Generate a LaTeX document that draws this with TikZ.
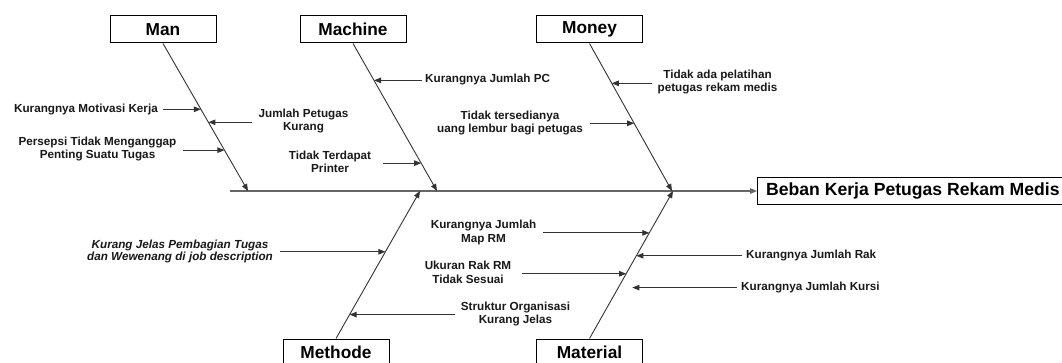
\documentclass[tikz,border=0pt]{standalone}
\usepackage{fontspec}
\setmainfont{Liberation Sans}
\usetikzlibrary{arrows.meta}
\begin{document}
\begin{tikzpicture}[x=1pt,y=-1pt,
  catbox/.style={draw=black, line width=1pt, minimum width=106pt, minimum height=27pt, inner sep=0pt, font=\fontsize{17.3}{20}\selectfont\bfseries},
  efftext/.style={minimum height=27pt, inner xsep=9pt, inner ysep=0pt, font=\fontsize{17.6}{20}\selectfont\bfseries},
  boxln/.style={draw=black, line width=1pt},
  lab/.style={inner sep=0pt, align=center, text=black!90, font=\fontsize{11.7}{13.6}\selectfont\bfseries},
  itlab/.style={lab, font=\fontsize{11.7}{11.5}\selectfont\bfseries\itshape},
  spine/.style={draw=black!80, line width=0.9pt, -{Triangle[length=7pt,width=5.5pt]}},
  arr/.style={draw=black!80, line width=0.9pt, -{Triangle[length=7pt,width=5.5pt]}},
  mainln/.style={draw=black!60, line width=1.4pt, -{Triangle[length=7pt,width=5.5pt]}},
]
\useasboundingbox (0,0) rectangle (1062,363);
\clip (0,0) rectangle (1062,363);
\fill[white] (0,0) rectangle (1062,363);

% category boxes
\node[catbox] (man) at (163,29.5) {Man};
\node[catbox] (machine) at (353,29.5) {Machine};
\node[catbox] (money) at (589.5,29.5) {Money};
\node[catbox] (methode) at (336,352.5) {Methode};
\node[catbox] (material) at (589.5,352.5) {Material};

% effect (box runs past the right edge)
\node[efftext, anchor=west] (effect) at (757,191) {Beban Kerja Petugas Rekam Medis};
\draw[boxln] ([xshift=30pt]effect.north east) -- (effect.north west) -- (effect.south west) -- ([xshift=30pt]effect.south east);
\coordinate (mainS) at (230,191);
\draw[mainln] (mainS) -- (effect.west);

% spine ends
\coordinate (manE) at (248,191);
\coordinate (macE) at (437,191);
\coordinate (monE) at (672,191);
\coordinate (metE) at (420,191);
\coordinate (matE) at (673,191);

\draw[spine] (man.south) -- (manE);
\draw[spine] (machine.south) -- (macE);
\draw[spine] (money.south) -- (monE);
\draw[spine] (methode.north) -- (metE);
\draw[spine] (material.north) -- (matE);

% points on spines
\path (man.south) -- (manE) coordinate[pos=0.446] (m1) coordinate[pos=0.534] (m2) coordinate[pos=0.723] (m3);
\path (machine.south) -- (macE) coordinate[pos=0.25] (c1) coordinate[pos=0.811] (c2);
\path (money.south) -- (monE) coordinate[pos=0.27] (o1) coordinate[pos=0.541] (o2);
\path (methode.north) -- (metE) coordinate[pos=0.588] (t1) coordinate[pos=0.162] (t2);
\path (material.north) -- (matE) coordinate[pos=0.716] (a1) coordinate[pos=0.561] (a2) coordinate[pos=0.439] (a3) coordinate[pos=0.345] (a4s);
\coordinate (a4) at ([xshift=14pt]a4s);

% tails
\coordinate (m1t) at (163,109);
\coordinate (m2t) at (252,122);
\coordinate (m3t) at (183,150);
\coordinate (c1t) at (422,80);
\coordinate (c2t) at (383,163);
\coordinate (o1t) at (652,83);
\coordinate (o2t) at (590,123);
\coordinate (t1t) at (280,252);
\coordinate (t2t) at (455,315);
\coordinate (a1t) at (543,233);
\coordinate (a2t) at (742,256);
\coordinate (a3t) at (522,274);
\coordinate (a4t) at (737,288);

% labels
\node[lab, anchor=east] (l1) at (158,109.5) {Kurangnya Motivasi Kerja};
\node[lab] (l2) at (303.5,121) {Jumlah Petugas\\Kurang};
\node[lab] (l3) at (97.5,149) {Persepsi Tidak Menganggap\\Penting Suatu Tugas};
\node[lab, anchor=west] (lc1) at (425,80) {Kurangnya Jumlah PC};
\node[lab] (lc2) at (330,162) {Tidak Terdapat\\Printer};
\node[lab] (lo1) at (717.5,82) {Tidak ada pelatihan\\petugas rekam medis};
\node[lab] (lo2) at (510,123) {Tidak tersedianya\\uang lembur bagi petugas};
\node[itlab] (lt1) at (180,251.5) {Kurang Jelas Pembagian Tugas\\dan Wewenang di job description};
\node[lab] (lt2) at (515.5,314) {Struktur Organisasi\\Kurang Jelas};
\node[lab] (la1) at (483.5,232.5) {Kurangnya Jumlah\\Map RM};
\node[lab, anchor=west] (la2) at (746,256) {Kurangnya Jumlah Rak};
\node[lab] (la3) at (468,272.5) {Ukuran Rak RM\\Tidak Sesuai};
\node[lab, anchor=west] (la4) at (741,288) {Kurangnya Jumlah Kursi};

% branch arrows
\draw[arr] (m1t |- m1) -- (m1);
\draw[arr] (m2t |- m2) -- (m2);
\draw[arr] (m3t |- m3) -- (m3);
\draw[arr] (c1t |- c1) -- (c1);
\draw[arr] (c2t |- c2) -- (c2);
\draw[arr] (o1t |- o1) -- (o1);
\draw[arr] (o2t |- o2) -- (o2);
\draw[arr] (t1t |- t1) -- (t1);
\draw[arr] (t2t |- t2) -- (t2);
\draw[arr] (a1t |- a1) -- (a1);
\draw[arr] (a2t |- a2) -- (a2);
\draw[arr] (a3t |- a3) -- (a3);
\draw[arr] (a4t |- a4) -- (a4);
\end{tikzpicture}
\end{document}
